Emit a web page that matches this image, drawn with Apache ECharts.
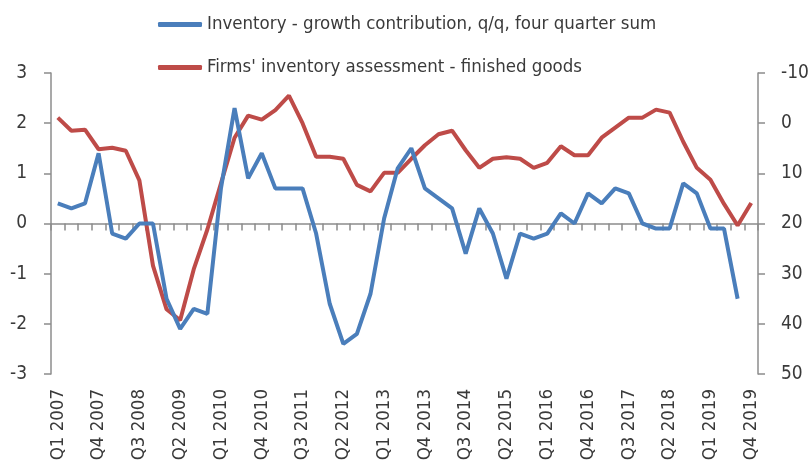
<!DOCTYPE html>
<html>
<head>
<meta charset="utf-8">
<script src="https://cdn.jsdelivr.net/npm/echarts@6/dist/echarts.min.js"></script>
<style>
  html, body { margin: 0; padding: 0; background: #fff; }
  #chart { width: 811px; height: 462px; }
</style>
</head>
<body>
<div id="chart"></div>
<script>
// quarters Q1 2007 .. Q4 2019
const quarters = [
  'Q1 2007', 'Q2 2007', 'Q3 2007', 'Q4 2007', 'Q1 2008', 'Q2 2008', 'Q3 2008', 'Q4 2008',
  'Q1 2009', 'Q2 2009', 'Q3 2009', 'Q4 2009', 'Q1 2010', 'Q2 2010', 'Q3 2010', 'Q4 2010',
  'Q1 2011', 'Q2 2011', 'Q3 2011', 'Q4 2011', 'Q1 2012', 'Q2 2012', 'Q3 2012', 'Q4 2012',
  'Q1 2013', 'Q2 2013', 'Q3 2013', 'Q4 2013', 'Q1 2014', 'Q2 2014', 'Q3 2014', 'Q4 2014',
  'Q1 2015', 'Q2 2015', 'Q3 2015', 'Q4 2015', 'Q1 2016', 'Q2 2016', 'Q3 2016', 'Q4 2016',
  'Q1 2017', 'Q2 2017', 'Q3 2017', 'Q4 2017', 'Q1 2018', 'Q2 2018', 'Q3 2018', 'Q4 2018',
  'Q1 2019', 'Q2 2019', 'Q3 2019', 'Q4 2019'
]

// Inventory - growth contribution (left axis), last value Q3 2019
const inventoryContribution = [
  0.4, 0.3, 0.4, 1.4, -0.2, -0.3, 0.0, 0.0,
  -1.5, -2.1, -1.7, -1.8, 0.7, 2.3, 0.9, 1.4,
  0.7, 0.7, 0.7, -0.2, -1.6, -2.4, -2.2, -1.4,
  0.1, 1.1, 1.5, 0.7, 0.5, 0.3, -0.6, 0.3,
  -0.2, -1.1, -0.2, -0.3, -0.2, 0.2, 0.0, 0.6,
  0.4, 0.7, 0.6, 0.0, -0.1, -0.1, 0.8, 0.6,
  -0.1, -0.1, -1.5
]

// Firms' inventory assessment - finished goods (right axis, inverted)
const inventoryAssessment = [
  -1.1, 1.5, 1.3, 5.2, 4.9, 5.5, 11.4, 28.4,
  37.1, 39.3, 29.1, 21.2, 12.0, 2.9, -1.5, -0.7,
  -2.6, -5.5, 0.0, 6.7, 6.7, 7.1, 12.3, 13.6,
  9.9, 9.9, 7.1, 4.4, 2.2, 1.5, 5.4, 8.9,
  7.1, 6.8, 7.1, 8.9, 7.9, 4.6, 6.4, 6.4,
  2.9, 0.9, -1.1, -1.1, -2.7, -2.1, 3.7, 8.9,
  11.3, 16.1, 20.4, 15.9
]

const FONT = '"Liberation Sans Narrow", "DejaVu Sans Condensed", "Liberation Sans", sans-serif'
const TEXT = '#3a3a3a'
const AXIS = '#8c8c8c'

const chart = echarts.init(document.getElementById('chart'), null, { renderer: 'canvas' })

chart.setOption({
  animation: false,
  color: ['#4a7ebb', '#be4b48'],
  textStyle: { fontFamily: FONT },
  legend: {
    orient: 'vertical',
    left: 153,
    top: 10,
    itemWidth: 44,
    itemHeight: 5,
    itemGap: 24,
    icon: 'roundRect',
    textStyle: { color: TEXT, fontSize: 18.5, fontFamily: FONT },
    data: [
      'Inventory - growth contribution, q/q, four quarter sum',
      "Firms' inventory assessment - finished goods"
    ]
  },
  grid: {
    left: 51,
    right: 53,
    top: 73,
    bottom: 88,
    containLabel: false,
    outerBoundsMode: 'none'
  },
  xAxis: [
    {
      // labels only, at the bottom of the plot
      type: 'category',
      data: quarters,
      boundaryGap: true,
      position: 'bottom',
      axisLine: { show: false, onZero: false },
      axisTick: { show: false },
      axisLabel: {
        interval: 2,
        rotate: 90,
        margin: 15,
        color: TEXT,
        fontSize: 18.5,
        fontFamily: FONT
      }
    },
    {
      // zero line with the quarter ticks
      type: 'category',
      data: quarters,
      boundaryGap: true,
      position: 'bottom',
      axisLine: { show: true, onZero: true, onZeroAxisIndex: 0, lineStyle: { color: AXIS, width: 1.5 } },
      axisTick: { show: true, interval: 0, length: 7, lineStyle: { color: AXIS, width: 1.5 } },
      axisLabel: { show: false }
    }
  ],
  yAxis: [
    {
      type: 'value',
      min: -3,
      max: 3,
      interval: 1,
      position: 'left',
      axisLine: { show: true, lineStyle: { color: AXIS, width: 1.5 } },
      axisTick: { show: true, length: 7, lineStyle: { color: AXIS, width: 1.5 } },
      splitLine: { show: false },
      axisLabel: { color: TEXT, fontSize: 19, margin: 24, fontFamily: FONT }
    },
    {
      type: 'value',
      min: -10,
      max: 50,
      interval: 10,
      inverse: true,
      position: 'right',
      axisLine: { show: true, lineStyle: { color: AXIS, width: 1.5 } },
      axisTick: { show: true, length: 7, lineStyle: { color: AXIS, width: 1.5 } },
      splitLine: { show: false },
      axisLabel: { color: TEXT, fontSize: 19, margin: 23, fontFamily: FONT }
    }
  ],
  series: [
    {
      name: 'Inventory - growth contribution, q/q, four quarter sum',
      type: 'line',
      xAxisIndex: 0,
      yAxisIndex: 0,
      data: inventoryContribution,
      showSymbol: false,
      symbol: 'none',
      lineStyle: { width: 4, color: '#4a7ebb' },
      z: 3
    },
    {
      name: "Firms' inventory assessment - finished goods",
      type: 'line',
      xAxisIndex: 0,
      yAxisIndex: 1,
      data: inventoryAssessment,
      showSymbol: false,
      symbol: 'none',
      lineStyle: { width: 4, color: '#be4b48' },
      z: 2
    }
  ]
})
</script>
</body>
</html>
